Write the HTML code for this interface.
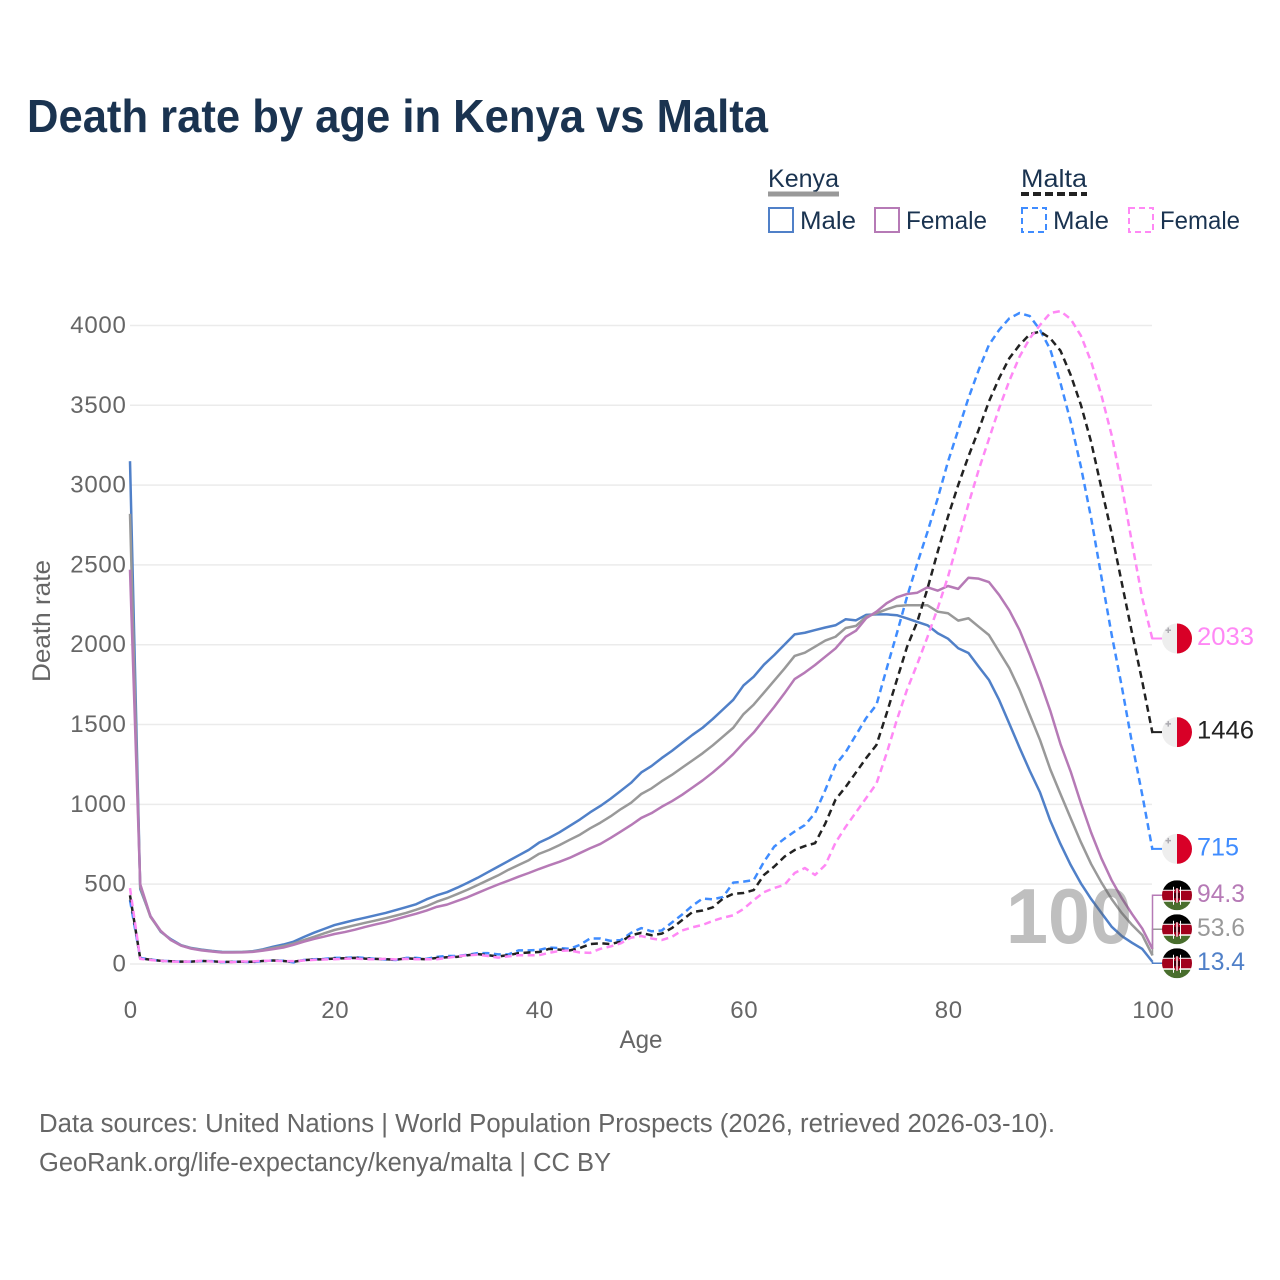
<!DOCTYPE html>
<html lang="en">
<head>
<meta charset="utf-8">
<title>Death rate by age in Kenya vs Malta</title>
<style>
html,body{margin:0;padding:0;background:#fff;}
svg{display:block;font-family:"Liberation Sans",sans-serif;}
.tick{font-size:24px;fill:#666;letter-spacing:.7px;}
.legend-text{font-size:25px;fill:#1a3350;}
.foot{font-size:25.5px;fill:#666;}
.end{font-size:25px;}
</style>
</head>
<body>
<svg id="chart" width="1280" height="1280" viewBox="0 0 1280 1280" xmlns="http://www.w3.org/2000/svg">
  <defs>
    <clipPath id="flag-clip"><circle cx="0" cy="0" r="15"/></clipPath>
    <symbol id="flag-malta" viewBox="-15 -15 30 30" overflow="visible">
      <g clip-path="url(#flag-clip)">
        <rect x="-15" y="-15" width="15" height="30" fill="#eeeeee"/>
        <rect x="0" y="-15" width="15" height="30" fill="#d80027"/>
        <path d="M-6-9h-2v-2h-1.500v2h-2v1.500h2v2h1.500v-2h2z" fill="#acabb1"/>
      </g>
    </symbol>
    <symbol id="flag-kenya" viewBox="-15 -15 30 30" overflow="visible">
      <g clip-path="url(#flag-clip)">
        <rect x="-15" y="-15" width="30" height="30" fill="#fff"/>
        <rect x="-15" y="-15" width="30" height="9.500" fill="#000"/>
        <rect x="-15" y="-4.500" width="30" height="9.500" fill="#a2001d"/>
        <rect x="-15" y="6.500" width="30" height="8.500" fill="#496e2d"/>
        <rect x="-4" y="-8.500" width="1" height="18" fill="#fff"/>
        <rect x="3" y="-8.500" width="1" height="18" fill="#fff"/>
        <ellipse cx="0" cy="0.300" rx="3" ry="7.500" fill="#a2001d"/>
        <rect x="-0.700" y="-7" width="1.400" height="14.500" fill="#fff"/>
        <rect x="-2.600" y="-2.500" width="1.200" height="5.500" fill="#000"/>
        <rect x="1.400" y="-2.500" width="1.200" height="5.500" fill="#000"/>
      </g>
    </symbol>
  </defs>

  <text x="27" y="132" font-size="46" font-weight="700" fill="#1a3350" textLength="741" lengthAdjust="spacingAndGlyphs">Death rate by age in Kenya vs Malta</text>

  <g>
    <g>
      <text class="legend-text" x="768" y="187" textLength="71" lengthAdjust="spacingAndGlyphs">Kenya</text>
      <line x1="768" y1="194" x2="839" y2="194" stroke="#999" stroke-width="5"/>
    </g>
    <g>
      <text class="legend-text" x="1021" y="187" textLength="66" lengthAdjust="spacingAndGlyphs">Malta</text>
      <line x1="1021" y1="194" x2="1087" y2="194" stroke="#222" stroke-width="4" stroke-dasharray="8 4"/>
    </g>
    <g>
      <rect x="769" y="208" width="24" height="24" fill="none" stroke="#5080c8" stroke-width="2"/>
      <text class="legend-text" x="800" y="229" textLength="56" lengthAdjust="spacingAndGlyphs">Male</text>
    </g>
    <g>
      <rect x="875" y="208" width="24" height="24" fill="none" stroke="#b67ab6" stroke-width="2"/>
      <text class="legend-text" x="906" y="229" textLength="81" lengthAdjust="spacingAndGlyphs">Female</text>
    </g>
    <g>
      <rect x="1022" y="208" width="24" height="24" fill="none" stroke="#3f8cff" stroke-width="2" stroke-dasharray="6 4"/>
      <text class="legend-text" x="1053" y="229" textLength="56" lengthAdjust="spacingAndGlyphs">Male</text>
    </g>
    <g>
      <rect x="1129" y="208" width="24" height="24" fill="none" stroke="#ff88f5" stroke-width="2" stroke-dasharray="6 4"/>
      <text class="legend-text" x="1160" y="229" textLength="80" lengthAdjust="spacingAndGlyphs">Female</text>
    </g>
  </g>

  <g id="grid"></g>
  <g id="y-ticks"></g>
  <g id="x-ticks"></g>
  <text transform="translate(50 621) rotate(-90)" text-anchor="middle" font-size="25" fill="#666" textLength="122" lengthAdjust="spacingAndGlyphs">Death rate</text>
  <text x="641" y="1048" text-anchor="middle" font-size="25" fill="#666" textLength="43" lengthAdjust="spacingAndGlyphs">Age</text>

  <g id="series"></g>
  <text x="1132" y="943" text-anchor="end" font-size="78" font-weight="700" fill="#666" fill-opacity="0.42" textLength="126" lengthAdjust="spacingAndGlyphs">100</text>
  <g id="end-labels"></g>

  <text class="foot" x="39" y="1132" textLength="1016" lengthAdjust="spacingAndGlyphs">Data sources: United Nations | World Population Prospects (2026, retrieved 2026-03-10).</text>
  <text class="foot" x="39" y="1171" textLength="572" lengthAdjust="spacingAndGlyphs">GeoRank.org/life-expectancy/kenya/malta | CC BY</text>
</svg>

<script>
var yTickValues = [0, 500, 1000, 1500, 2000, 2500, 3000, 3500, 4000];
var xTickValues = [0, 20, 40, 60, 80, 100];

var kenyaMale = [
  3150,470,300,202,155,118,100,90,82,76,
  75,76,80,92,108,122,140,169,196,220,
  244,260,276,290,305,320,338,356,375,405,
  430,450,478,508,540,575,610,645,680,715,
  760,790,825,865,905,950,990,1035,1085,1135,
  1200,1240,1290,1335,1385,1435,1480,1535,1595,1655,
  1745,1800,1875,1935,2000,2065,2075,2092,2108,2122,
  2160,2153,2187,2190,2190,2185,2165,2143,2122,2072,
  2038,1978,1948,1863,1780,1654,1505,1355,1210,1075,
  898,752,620,505,407,320,234,175,133,94,
  13.4];

var kenyaBoth = [
  2820,480,295,205,150,116,98,88,80,74,
  74,75,78,88,100,112,128,150,170,192,
  213,228,243,258,272,287,303,320,340,362,
  390,412,438,465,495,525,555,590,620,650,
  690,715,745,778,810,850,885,925,970,1010,
  1065,1100,1145,1185,1230,1275,1320,1370,1425,1480,
  1565,1625,1700,1775,1850,1930,1950,1988,2026,2050,
  2105,2118,2176,2197,2222,2243,2247,2247,2247,2207,
  2197,2151,2166,2113,2061,1957,1853,1717,1560,1403,
  1220,1065,913,763,626,511,407,319,245,181,
  53.6];

var kenyaFemale = [
  2470,500,300,208,150,115,96,85,78,72,
  72,73,76,84,93,103,120,140,157,172,
  188,200,215,232,248,262,280,298,315,335,
  358,372,395,418,445,472,498,522,547,570,
  595,618,640,665,695,725,752,790,830,870,
  915,945,985,1020,1060,1105,1150,1200,1255,1315,
  1385,1450,1530,1610,1695,1785,1826,1873,1925,1977,
  2050,2088,2166,2207,2260,2297,2318,2326,2360,2339,
  2368,2350,2420,2414,2393,2312,2215,2092,1936,1770,
  1587,1378,1205,1007,823,662,525,412,313,222,
  94.3];

var maltaMale = [
  400,38,28,20,18,15,15,18,18,12,
  14,14,12,18,22,20,10,25,30,32,
  38,38,42,38,32,28,25,38,38,32,
  45,50,50,58,68,68,60,60,85,85,
  88,103,100,95,120,160,160,145,150,195,
  225,205,210,260,310,365,410,405,420,510,
  516,526,640,735,785,830,870,945,1090,1247,
  1328,1435,1541,1623,1850,2072,2302,2510,2708,2918,
  3147,3346,3545,3721,3878,3972,4045,4078,4059,3972,
  3850,3640,3397,3115,2793,2426,2065,1737,1383,1059,
  715];

var maltaBoth = [
  430,35,27,20,17,15,15,19,17,13,
  13,15,14,19,22,19,14,24,28,30,
  34,36,38,34,32,30,27,35,32,30,
  38,42,45,55,62,55,47,55,68,72,
  75,95,90,85,100,125,130,125,140,180,
  195,180,190,225,275,325,335,355,410,440,
  445,463,558,610,672,714,739,757,880,1030,
  1110,1200,1290,1372,1570,1780,1988,2145,2353,2584,
  2803,3001,3180,3346,3523,3670,3795,3878,3945,3962,
  3920,3842,3690,3502,3270,2982,2700,2387,2073,1769,
  1446];

var maltaFemale = [
  476,32,25,20,16,14,16,20,16,14,
  12,16,16,20,20,18,18,22,26,28,
  30,33,34,30,30,32,28,32,30,30,
  30,38,48,55,58,50,40,48,55,55,
  55,70,82,85,72,70,95,110,130,165,
  175,160,150,170,210,230,245,270,290,305,
  345,400,450,476,495,570,601,558,620,760,
  860,950,1040,1130,1320,1530,1720,1880,2050,2230,
  2426,2656,2881,3095,3288,3481,3654,3805,3920,4003,
  4078,4090,4040,3936,3773,3564,3314,2996,2636,2292,
  2033];

var seriesList = [
  {name: 'kenya-male', values: kenyaMale, color: '#5080c8', dash: '', flag: 'flag-kenya', label: '13.4'},
  {name: 'kenya-both', values: kenyaBoth, color: '#999999', dash: '', flag: 'flag-kenya', label: '53.6'},
  {name: 'kenya-female', values: kenyaFemale, color: '#b67ab6', dash: '', flag: 'flag-kenya', label: '94.3'},
  {name: 'malta-male', values: maltaMale, color: '#3f8cff', dash: '7 4.500', flag: 'flag-malta', label: '715'},
  {name: 'malta-both', values: maltaBoth, color: '#222222', dash: '7 4.500', flag: 'flag-malta', label: '1446'},
  {name: 'malta-female', values: maltaFemale, color: '#ff88f5', dash: '7 4.500', flag: 'flag-malta', label: '2033'}
];

var NS = 'http://www.w3.org/2000/svg';
function xScale(age) { return 130 + age * 10.225; }
function yScale(v) { return 964 - v * 0.15963; }
function make(tag, attrs, parent) {
  var el = document.createElementNS(NS, tag);
  for (var k in attrs) { el.setAttribute(k, attrs[k]); }
  parent.appendChild(el);
  return el;
}

var gridG = document.getElementById('grid');
var yG = document.getElementById('y-ticks');
var xG = document.getElementById('x-ticks');
yTickValues.forEach(function (t) {
  var ln = make('line', {x1: 130, x2: 1152, y1: yScale(t), y2: yScale(t), stroke: '#ebebeb', 'stroke-width': 1.5}, gridG);
  
  
  var tx = make('text', {x: 126.500, y: yScale(t) + 7.500, 'text-anchor': 'end', 'class': 'tick'}, yG);
  tx.textContent = t;
  
  
});
xTickValues.forEach(function (t) {
  var tx = make('text', {x: xScale(t) + 0.800, y: 1018, 'text-anchor': 'middle', 'class': 'tick'}, xG);
  tx.textContent = t;
  
  
});

var seriesG = document.getElementById('series');
var labelsG = document.getElementById('end-labels');

/* end labels: stacked upward from the value position so that they do not overlap */
var ordered = seriesList.slice().sort(function (a, b) { return a.values[100] - b.values[100]; });
var prevY = null;
ordered.forEach(function (s) {
  var ly = yScale(s.values[100]);
  if (prevY !== null && prevY - ly < 34) { ly = prevY - 34; }
  s.labelY = ly;
  prevY = ly;
});

seriesList.forEach(function (s) {
  var pts = s.values.map(function (v, i) { return xScale(i).toFixed(2) + ',' + yScale(v).toFixed(2); }).join(' ');
  var attrs = {points: pts, fill: 'none', stroke: s.color, 'stroke-width': 2.500, 'stroke-linejoin': 'round'};
  if (s.dash) { attrs['stroke-dasharray'] = s.dash; }
  var line = make('polyline', attrs, seriesG);
  
  

  var cy = s.labelY + (s.flag === 'flag-kenya' ? 1.400 : -1);
  var endX = xScale(100), endY = yScale(s.values[100]);
  var leader = make('path', {d: 'M' + endX + ' ' + endY + 'V' + cy + 'H1162', fill: 'none', stroke: s.color, 'stroke-width': s.dash ? 2 : 1.500}, labelsG);
  
  

  var flag = make('use', {href: '#' + s.flag, x: 1162, y: cy - 15, width: 30, height: 30}, labelsG);
  
  

  var label = make('text', {x: 1197, y: cy + 6.500, 'class': 'end', fill: s.color, textLength: s.label.length === 4 && s.label.indexOf('.') < 0 ? 57 : (s.label.length === 3 ? 42 : 48), lengthAdjust: 'spacingAndGlyphs'}, labelsG);
  label.textContent = s.label;
  
  
});
</script>
</body>
</html>
